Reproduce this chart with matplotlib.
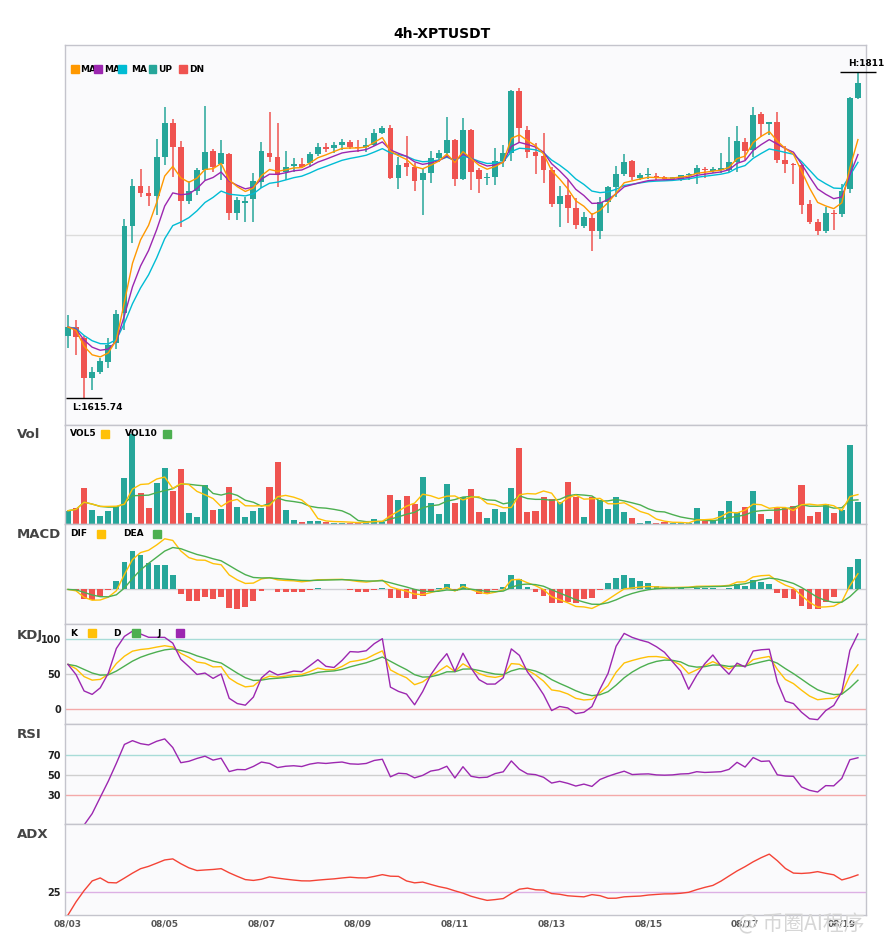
import numpy as np
import pandas as pd
import matplotlib
matplotlib.use("Agg")
import matplotlib.pyplot as plt
from matplotlib.patches import Rectangle

# ---------------- data (4h candles, XPTUSDT) ----------------
opens = [1652.9, 1658.3, 1651.7, 1627.7, 1631.3, 1637.3, 1648.7, 1666.7, 1718.9, 1742.9,
         1738.7, 1736.9, 1760.3, 1780.7, 1766.3, 1733.9, 1739.9, 1752.5, 1763.9, 1756.1,
         1762.1, 1726.7, 1732.7, 1735.1, 1745.3, 1762.7, 1760.3, 1751.3, 1754.9, 1756.1,
         1756.7, 1762.1, 1766.3, 1765.7, 1767.5, 1769.3, 1766.3, 1766.3, 1767.5, 1774.7,
         1777.7, 1747.7, 1756.7, 1754.3, 1746.5, 1750.7, 1759.7, 1762.7, 1770.5, 1747.1,
         1776.5, 1752.5, 1747.7, 1748.3, 1757.9, 1762.7, 1799.9, 1776.5, 1763.3, 1760.9,
         1752.5, 1732.1, 1737.5, 1729.7, 1718.9, 1723.7, 1715.9, 1733.3, 1742.3, 1750.1,
         1757.9, 1747.7, 1749.5, 1748.9, 1748.3, 1747.4, 1746.5, 1749.5, 1750.1, 1753.1,
         1751.9, 1752.5, 1752.5, 1757.3, 1769.3, 1764.5, 1786.1, 1780.1, 1781.3, 1758.5,
         1756.1, 1755.5, 1732.1, 1721.3, 1715.9, 1726.7, 1726.1, 1741.1, 1795.7]
highs = [1665.5, 1662.5, 1652.9, 1634.3, 1639.7, 1651.7, 1668.5, 1723.1, 1747.1, 1753.1,
         1742.9, 1771.1, 1790.3, 1783.1, 1769.9, 1745.9, 1753.7, 1790.9, 1765.1, 1770.5,
         1762.7, 1736.3, 1736.3, 1750.7, 1769.3, 1787.3, 1780.7, 1763.9, 1759.7, 1759.7,
         1763.3, 1768.7, 1768.7, 1769.3, 1771.1, 1770.5, 1770.5, 1771.7, 1777.1, 1778.9,
         1779.5, 1760.3, 1772.9, 1756.7, 1753.7, 1763.9, 1764.5, 1784.3, 1771.1, 1783.7,
         1777.1, 1753.7, 1750.7, 1765.7, 1767.5, 1800.5, 1801.7, 1778.9, 1768.7, 1774.7,
         1754.3, 1742.9, 1746.5, 1735.7, 1727.3, 1726.7, 1736.3, 1742.9, 1754.9, 1762.1,
         1758.5, 1750.7, 1753.7, 1750.7, 1748.9, 1748.3, 1749.5, 1750.7, 1755.5, 1754.3,
         1754.3, 1762.7, 1772.3, 1778.9, 1771.7, 1790.3, 1787.3, 1781.3, 1787.3, 1766.9,
         1756.7, 1756.1, 1734.5, 1723.1, 1730.3, 1728.5, 1744.1, 1796.3, 1811.3]
lows = [1645.7, 1641.5, 1615.74, 1620.5, 1630.1, 1633.7, 1645.1, 1656.5, 1708.7, 1736.3,
        1730.9, 1725.5, 1755.5, 1748.3, 1718.3, 1732.1, 1737.5, 1746.5, 1751.3, 1746.5,
        1722.5, 1722.5, 1721.3, 1721.3, 1741.7, 1757.3, 1742.3, 1746.5, 1751.3, 1753.7,
        1754.3, 1760.9, 1763.3, 1762.7, 1764.5, 1765.1, 1763.3, 1763.3, 1766.9, 1774.1,
        1747.1, 1741.1, 1748.9, 1739.9, 1725.5, 1744.7, 1757.3, 1760.3, 1742.9, 1746.5,
        1740.5, 1738.7, 1743.5, 1743.5, 1754.3, 1757.9, 1768.7, 1759.7, 1750.1, 1744.7,
        1730.3, 1718.3, 1720.7, 1717.1, 1717.7, 1703.9, 1711.1, 1726.7, 1736.3, 1748.9,
        1746.5, 1746.5, 1747.1, 1746.5, 1746.5, 1745.9, 1745.9, 1746.5, 1744.1, 1747.7,
        1750.7, 1750.7, 1751.3, 1751.3, 1758.5, 1760.3, 1772.3, 1773.5, 1756.7, 1750.7,
        1744.1, 1726.1, 1720.1, 1713.5, 1714.7, 1716.5, 1724.3, 1738.7, 1795.1]
closes = [1658.3, 1652.3, 1627.7, 1631.3, 1637.9, 1647.5, 1666.1, 1718.9, 1742.9, 1738.7,
          1736.9, 1760.3, 1780.7, 1766.3, 1733.9, 1739.9, 1752.5, 1763.3, 1754.3, 1762.7,
          1726.7, 1734.5, 1733.9, 1745.9, 1763.9, 1760.3, 1749.5, 1754.3, 1756.1, 1754.3,
          1762.1, 1766.3, 1765.1, 1767.5, 1769.3, 1766.3, 1765.7, 1767.5, 1774.7, 1777.7,
          1747.7, 1755.5, 1754.3, 1745.9, 1750.7, 1759.7, 1762.7, 1770.5, 1747.1, 1776.5,
          1751.3, 1747.1, 1748.3, 1757.9, 1762.7, 1799.9, 1777.7, 1763.3, 1760.9, 1752.5,
          1732.1, 1736.9, 1729.7, 1719.5, 1724.3, 1715.9, 1733.3, 1742.3, 1750.1, 1757.3,
          1748.3, 1749.5, 1750.1, 1747.7, 1747.1, 1747.7, 1749.5, 1750.1, 1753.7, 1752.5,
          1753.1, 1753.7, 1757.3, 1769.9, 1763.9, 1785.5, 1780.1, 1781.3, 1758.5, 1756.1,
          1755.5, 1731.5, 1721.3, 1715.9, 1726.7, 1726.1, 1739.9, 1795.7, 1804.7]
volumes = [40, 48, 109, 43, 25, 40, 51, 139, 271, 94,
           49, 124, 169, 100, 166, 34, 22, 118, 43, 46,
           112, 52, 22, 40, 49, 112, 187, 43, 13, 7,
           10, 10, 6, 4, 4, 4, 3, 10, 16, 7,
           88, 73, 85, 61, 142, 64, 31, 121, 64, 82,
           106, 37, 19, 46, 37, 109, 229, 37, 40, 82,
           76, 67, 127, 82, 22, 82, 73, 46, 82, 37,
           19, 4, 10, 4, 6, 2, 2, 2, 49, 10,
           10, 40, 70, 37, 52, 100, 31, 16, 52, 49,
           55, 118, 25, 37, 61, 34, 43, 238, 67]
start_time = "2025-08-03 00:00"
title = "4h-XPTUSDT"

# ---------------- indicators ----------------
o = pd.Series(opens); h = pd.Series(highs); l = pd.Series(lows)
c = pd.Series(closes); v = pd.Series(volumes, dtype=float)
n = len(c)
x = np.arange(n)
dates = pd.date_range(start_time, periods=n, freq="4h")

def ema(s, p):
    return s.ewm(span=p, adjust=False).mean()

ma1, ma2, ma3 = ema(c, 5), ema(c, 8), ema(c, 13)
vol5 = v.rolling(5, min_periods=1).mean()
vol10 = v.rolling(10, min_periods=1).mean()
dif = ema(c, 6) - ema(c, 13)
dea = ema(dif, 5)
hist = 2 * (dif - dea)
low9 = l.rolling(9, min_periods=1).min()
high9 = h.rolling(9, min_periods=1).max()
rsv = (c - low9) / (high9 - low9) * 100
K = rsv.ewm(com=2, adjust=False).mean()
D = K.ewm(com=2, adjust=False).mean()
J = 3 * K - 2 * D
delta = c.diff()
gain = delta.clip(lower=0).ewm(alpha=1 / 14, adjust=True).mean()
loss = (-delta.clip(upper=0)).ewm(alpha=1 / 14, adjust=True).mean()
rsi = 100 * gain / (gain + loss)
up = h.diff(); dn = -l.diff()
pdm = pd.Series(np.where((up > dn) & (up > 0), up, 0.0))
mdm = pd.Series(np.where((dn > up) & (dn > 0), dn, 0.0))
tr = pd.concat([h - l, (h - c.shift()).abs(), (l - c.shift()).abs()], axis=1).max(axis=1)
a = 1 / 7
atr = tr.ewm(alpha=a, adjust=False).mean()
pdi = 100 * pdm.ewm(alpha=a, adjust=False).mean() / atr
mdi = 100 * mdm.ewm(alpha=a, adjust=False).mean() / atr
dx = (100 * (pdi - mdi).abs() / (pdi + mdi)).fillna(0)
adx = dx.ewm(alpha=a, adjust=False).mean()

# ---------------- style ----------------
UPC, DNC = "#26a69a", "#ef5350"
C_MA1, C_MA2, C_MA3 = "#ff9800", "#9c27b0", "#00bcd4"
YEL, GRN, PUR = "#ffc107", "#4caf50", "#9c27b0"
BG = "#fafafc"
SPINE = "#c4c4cc"

W, H = 885, 950
fig = plt.figure(figsize=(W / 100, H / 100), dpi=100)
fig.patch.set_facecolor("white")
LPX, RPX = 65, 866
XMIN, XMAX = -0.37, 99.0

def add_ax(top, bot):
    ax = fig.add_axes([LPX / W, 1 - bot / H, (RPX - LPX) / W, (bot - top) / H])
    ax.set_facecolor(BG)
    for s in ax.spines.values():
        s.set_color(SPINE)
        s.set_linewidth(1.0)
    ax.set_xlim(XMIN, XMAX)
    ax.set_xticks([])
    ax.set_yticks([])
    ax.tick_params(length=0, labelsize=7, pad=3)
    return ax

def fig_sq(xp, yp, color, s=7.5):
    fig.add_artist(Rectangle((xp / W, 1 - (yp + s / 2) / H), s / W, s / H,
                             color=color, transform=fig.transFigure, zorder=20))

def fig_tx(xp, yp, s, size=6.5, **kw):
    fig.text(xp / W, 1 - yp / H, s, fontsize=size, fontweight="bold",
             va="center", ha="left", zorder=15, **kw)

up_mask = c >= o
colors = [UPC if u else DNC for u in up_mask]

# ---------------- price ----------------
axp = add_ax(45, 425)
axp.vlines(x, l, h, colors=colors, lw=1.1, zorder=2)
body_lo = np.minimum(o, c); body_h = (c - o).abs()
axp.bar(x, body_h, bottom=body_lo, width=0.72, color=colors, zorder=3)
doji = body_h < 0.4
axp.hlines(c[doji], x[doji] - 0.36, x[doji] + 0.36, colors=np.array(colors)[doji], lw=1.2, zorder=3)
axp.plot(x, ma3, color=C_MA3, lw=1.0, zorder=4)
axp.plot(x, ma2, color=C_MA2, lw=1.0, zorder=4)
axp.plot(x, ma1, color=C_MA1, lw=1.0, zorder=4)
lo, hi = l.min(), h.max()
rng = hi - lo
axp.set_ylim(lo - 0.083 * rng, hi + 0.083 * rng)
axp.axhline((lo + hi) / 2, color="#dcdcdc", lw=1, zorder=1)
ih, il = int(h.idxmax()), int(l.idxmin())
axp.hlines(hi, ih - 2.2, ih + 2.2, color="black", lw=1.0, clip_on=False, zorder=6)
axp.text(ih - 1.25, hi + 0.012 * rng, f"H:{hi:.2f}", fontsize=6.5, fontweight="bold",
         va="bottom", ha="left", clip_on=False, zorder=6)
axp.hlines(lo, il - 2.2, il + 2.2, color="black", lw=1.0, clip_on=False, zorder=6)
axp.text(il - 1.5, lo - 0.015 * rng, f"L:{lo:.2f}", fontsize=6.5, fontweight="bold",
         va="top", ha="left", zorder=6)
fig.text(0.5, 1 - 34 / H, title, fontsize=10, fontweight="bold", ha="center", va="center")
# price legend
for sx, col, lab, tx in [(71, C_MA1, "MA", 80.5), (94, C_MA2, "MA", 104.5), (118, C_MA3, "MA", 131.5),
                         (148.5, UPC, "UP", 158.5), (179, DNC, "DN", 189)]:
    fig_tx(tx, 69, lab)
    fig_sq(sx, 69, col)

# ---------------- volume ----------------
axv = add_ax(425, 524)
axv.bar(x, v, width=0.75, color=colors, zorder=2)
axv.plot(x, vol10, color=GRN, lw=1.0, zorder=3)
axv.plot(x, vol5, color=YEL, lw=1.0, zorder=3)
axv.set_ylim(0, v.max() * 1.1)
fig_tx(70, 434, "VOL5"); fig_sq(101, 434, YEL)
fig_tx(125, 434, "VOL10"); fig_sq(163, 434, GRN)

# ---------------- MACD ----------------
axm = add_ax(524, 624)
hcol = [UPC if hv >= 0 else DNC for hv in hist]
axm.bar(x, hist, width=0.72, color=hcol, zorder=2)
axm.axhline(0, color="#cfcfd4", lw=1, zorder=1)
axm.plot(x, dif, color=YEL, lw=1.0, zorder=3)
axm.plot(x, dea, color=GRN, lw=1.0, zorder=3)
mx = max(dif.max(), dea.max(), hist.max()); mn = min(dif.min(), dea.min(), hist.min())
r = mx - mn
axm.set_ylim(mn - 0.21 * r, mx + 0.21 * r)
fig_tx(70, 534, "DIF"); fig_sq(97, 534, YEL)
fig_tx(123, 534, "DEA"); fig_sq(153, 534, GRN)

# ---------------- KDJ ----------------
axk = add_ax(624, 724)
axk.axhline(100, color="#a8dcd8", lw=1, zorder=1)
axk.axhline(50, color="#cfcfcf", lw=1, zorder=1)
axk.axhline(0, color="#f4a9a9", lw=1, zorder=1)
axk.plot(x, K, color=YEL, lw=1.0, zorder=3)
axk.plot(x, D, color=GRN, lw=1.0, zorder=3)
axk.plot(x, J, color=PUR, lw=1.0, zorder=3)
axk.set_ylim(-21, 121)
axk.set_yticks([0, 50, 100])
fig_tx(70, 633, "K"); fig_sq(88, 633, YEL)
fig_tx(113, 633, "D"); fig_sq(132, 633, GRN)
fig_tx(157, 633, "J"); fig_sq(176, 633, PUR)

# ---------------- RSI ----------------
axr = add_ax(724, 824)
axr.axhline(70, color="#a8dcd8", lw=1, zorder=1)
axr.axhline(50, color="#cfcfcf", lw=1, zorder=1)
axr.axhline(30, color="#f4a9a9", lw=1, zorder=1)
axr.plot(x, rsi, color=PUR, lw=1.0, zorder=3)
axr.set_ylim(1, 101)
axr.set_yticks([30, 50, 70])

# ---------------- ADX ----------------
axa = add_ax(824, 915)
axa.axhline(25, color="#dcb0e4", lw=1, zorder=1)
axa.plot(x, adx, color="#f44336", lw=1.0, zorder=3)
amin = adx.min()
axa.set_ylim(amin, amin + (25 - amin) * 91 / 23)
axa.set_yticks([25])
tick_idx = list(range(0, n, 12))
axa.set_xticks(tick_idx)
axa.set_xticklabels([dates[i].strftime("%m/%d") for i in tick_idx])
axa.tick_params(axis="x", labelsize=6.5, colors="#555555", pad=3)

for ax in (axk, axr, axa):
    for lab in ax.get_yticklabels() + ax.get_xticklabels():
        lab.set_fontweight("bold")
for ax in (axk, axr, axa):
    ax.tick_params(axis="y", labelcolor="#222222")

# panel names
for name, yp in [("Vol", 434), ("MACD", 534), ("KDJ", 635), ("RSI", 735), ("ADX", 834)]:
    fig.text(17 / W, 1 - yp / H, name, fontsize=9.5, fontweight="bold", color="#444444",
             va="center", ha="left")

# watermark
fig.text(738 / W, 1 - 924 / H, "@ 币圈AI程序", fontsize=15, color="#d6d6d6",
         family=["Noto Sans CJK SC", "DejaVu Sans"], va="center", ha="left", zorder=30)

fig.savefig("out.png", dpi=100, facecolor="white")
